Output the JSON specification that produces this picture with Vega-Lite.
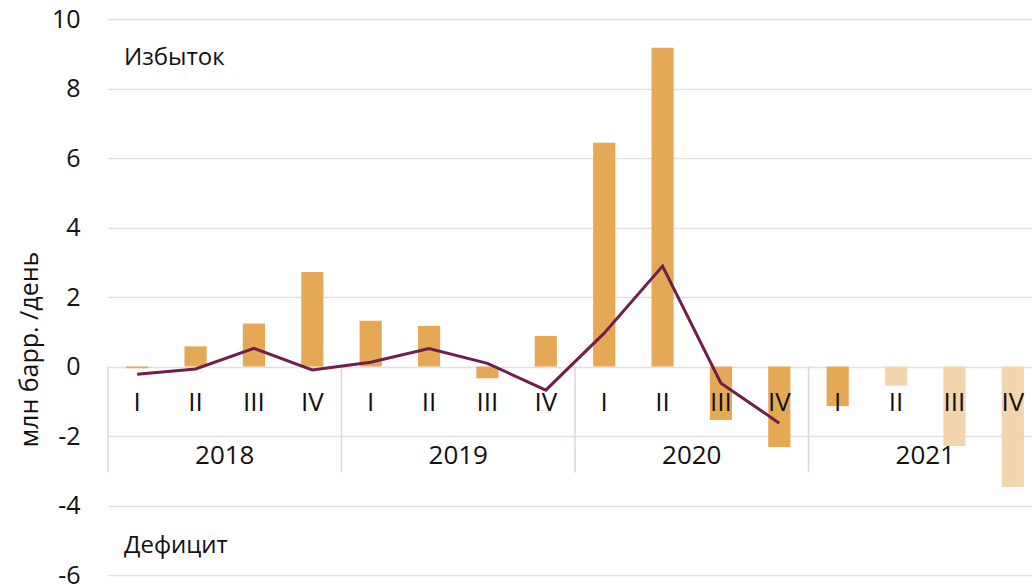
{
  "$schema": "https://vega.github.io/schema/vega-lite/v6.json",
  "width": 924,
  "height": 556,
  "autosize": "none",
  "padding": {"left": 108, "top": 19, "right": 0, "bottom": 11},
  "background": "white",
  "config": {
    "view": {"stroke": null},
    "font": "Open Sans",
    "text": {"font": "Open Sans", "color": "#111111"}
  },
  "data": {
    "values": [
      {"period": "2018 I", "year": "2018", "q": "I", "bal": -0.05, "avg": -0.22, "kind": "факт"},
      {"period": "2018 II", "year": "2018", "q": "II", "bal": 0.58, "avg": -0.07, "kind": "факт"},
      {"period": "2018 III", "year": "2018", "q": "III", "bal": 1.24, "avg": 0.52, "kind": "факт"},
      {"period": "2018 IV", "year": "2018", "q": "IV", "bal": 2.72, "avg": -0.1, "kind": "факт"},
      {"period": "2019 I", "year": "2019", "q": "I", "bal": 1.32, "avg": 0.12, "kind": "факт"},
      {"period": "2019 II", "year": "2019", "q": "II", "bal": 1.17, "avg": 0.52, "kind": "факт"},
      {"period": "2019 III", "year": "2019", "q": "III", "bal": -0.34, "avg": 0.09, "kind": "факт"},
      {"period": "2019 IV", "year": "2019", "q": "IV", "bal": 0.88, "avg": -0.68, "kind": "факт"},
      {"period": "2020 I", "year": "2020", "q": "I", "bal": 6.44, "avg": 0.96, "kind": "факт"},
      {"period": "2020 II", "year": "2020", "q": "II", "bal": 9.17, "avg": 2.89, "kind": "факт"},
      {"period": "2020 III", "year": "2020", "q": "III", "bal": -1.54, "avg": -0.48, "kind": "факт"},
      {"period": "2020 IV", "year": "2020", "q": "IV", "bal": -2.32, "avg": -1.63, "kind": "факт"},
      {"period": "2021 I", "year": "2021", "q": "I", "bal": -1.14, "avg": null, "kind": "факт"},
      {"period": "2021 II", "year": "2021", "q": "II", "bal": -0.55, "avg": null, "kind": "прогноз"},
      {"period": "2021 III", "year": "2021", "q": "III", "bal": -2.29, "avg": null, "kind": "прогноз"},
      {"period": "2021 IV", "year": "2021", "q": "IV", "bal": -3.47, "avg": null, "kind": "прогноз"}
    ]
  },
  "encoding": {
    "x": {
      "field": "period",
      "type": "nominal",
      "sort": null,
      "scale": {"paddingInner": 0, "paddingOuter": 0, "range": [0, 934]},
      "axis": null
    }
  },
  "layer": [
    {
      "mark": {"type": "bar", "width": {"band": 0.38}},
      "encoding": {
        "y": {
          "field": "bal",
          "type": "quantitative",
          "scale": {"domain": [-6, 10], "nice": false, "zero": false},
          "axis": {
            "values": [-6, -4, -2, 0, 2, 4, 6, 8, 10],
            "labelExpr": "'' + datum.value",
            "ticks": false,
            "domain": false,
            "labelFontSize": 25,
            "labelColor": "#111111",
            "labelFont": "Open Sans",
            "labelPadding": 28,
            "gridColor": "#E6DDE1",
            "gridWidth": 1.5,
            "title": "млн барр. /день",
            "titleFont": "Open Sans",
            "titleFontSize": 25,
            "titleFontWeight": "normal",
            "titleColor": "#111111",
            "titleAngle": 270,
            "titleBaseline": "alphabetic",
            "titleAlign": "center",
            "titleX": -71,
            "titleY": 330
          }
        },
        "color": {
          "field": "kind",
          "type": "nominal",
          "scale": {"domain": ["факт", "прогноз"], "range": ["#E5A955", "#F3D5AE"]},
          "legend": null
        }
      }
    },
    {
      "transform": [{"filter": "datum.q === 'I'"}],
      "mark": {"type": "rule", "color": "#DCD6D9", "strokeWidth": 1.5},
      "encoding": {
        "x": {"field": "period", "type": "nominal", "sort": null, "bandPosition": 0},
        "y": {"datum": 0},
        "y2": {"datum": -3.05}
      }
    },
    {
      "mark": {"type": "text", "fontSize": 26, "baseline": "middle", "align": "center"},
      "encoding": {
        "text": {"field": "q"},
        "y": {"datum": -1.05}
      }
    },
    {
      "transform": [{"filter": "datum.q === 'III'"}],
      "mark": {"type": "text", "fontSize": 26, "baseline": "middle", "align": "center"},
      "encoding": {
        "x": {"field": "period", "type": "nominal", "sort": null, "bandPosition": 0},
        "text": {"field": "year"},
        "y": {"datum": -2.58}
      }
    },
    {
      "transform": [{"filter": "datum.avg !== null"}],
      "mark": {"type": "line", "color": "#6E1F4A", "strokeWidth": 3},
      "encoding": {
        "y": {"field": "avg", "type": "quantitative"}
      }
    },
    {
      "data": {"values": [{"label": "Избыток", "v": 8.88}, {"label": "Дефицит", "v": -5.17}]},
      "mark": {"type": "text", "fontSize": 24, "baseline": "middle", "align": "left", "dx": 16},
      "encoding": {
        "x": {"datum": "2018 I", "bandPosition": 0},
        "y": {"field": "v", "type": "quantitative"},
        "text": {"field": "label"}
      }
    }
  ]
}
